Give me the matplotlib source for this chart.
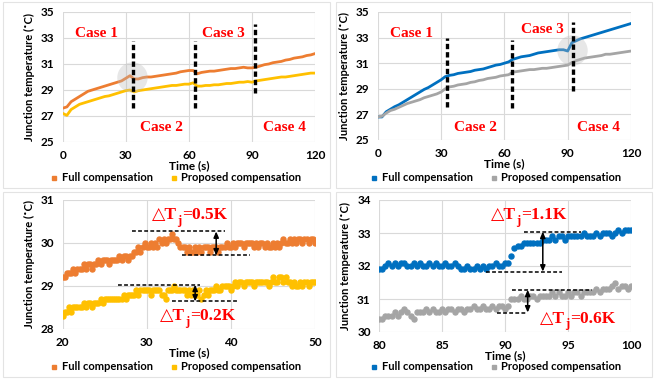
import numpy as np
import matplotlib
matplotlib.use("Agg")
import matplotlib.pyplot as plt
from matplotlib.lines import Line2D
from matplotlib.patches import Rectangle

# ---------------- data ----------------
t_top = list(range(0, 121, 2))
tl_full = [27.6, 27.7, 28.1, 28.3, 28.5, 28.7, 28.9, 29.0, 29.1, 29.2, 29.3, 29.4, 29.5, 29.6, 29.7, 29.9,
           30.1, 29.85, 29.85, 29.95, 30.0, 30.0, 30.05, 30.1, 30.15, 30.2, 30.25, 30.3, 30.4, 30.45, 30.5,
           30.5, 30.25, 30.35, 30.4, 30.45, 30.45, 30.5, 30.55, 30.6, 30.65, 30.65, 30.7, 30.75, 30.7, 30.7,
           30.75, 30.85, 30.95, 31.0, 31.1, 31.15, 31.2, 31.3, 31.35, 31.45, 31.5, 31.55, 31.65, 31.7, 31.8]
tl_prop = [27.2, 27.05, 27.5, 27.7, 27.9, 28.0, 28.1, 28.2, 28.3, 28.4, 28.5, 28.55, 28.65, 28.75, 28.85, 28.95,
           29.0, 28.85, 28.95, 29.0, 29.05, 29.1, 29.15, 29.2, 29.25, 29.3, 29.35, 29.35, 29.4, 29.45, 29.45,
           29.55, 29.3, 29.3, 29.35, 29.35, 29.4, 29.4, 29.45, 29.5, 29.5, 29.55, 29.6, 29.6, 29.65, 29.6,
           29.7, 29.75, 29.8, 29.85, 29.9, 29.95, 30.0, 30.0, 30.05, 30.1, 30.15, 30.2, 30.25, 30.3, 30.3]
tr_full = [26.8, 26.8, 27.2, 27.4, 27.6, 27.75, 27.95, 28.15, 28.35, 28.55, 28.75, 28.95, 29.1, 29.3, 29.5, 29.7,
           29.95, 30.05, 30.1, 30.2, 30.25, 30.3, 30.35, 30.45, 30.5, 30.55, 30.65, 30.75, 30.85, 30.9, 31.0,
           31.1, 31.3, 31.4, 31.5, 31.55, 31.6, 31.7, 31.8, 31.85, 31.9, 31.95, 32.0, 32.05, 32.05, 31.95,
           32.6, 32.75, 32.9, 33.0, 33.1, 33.2, 33.3, 33.4, 33.5, 33.6, 33.7, 33.8, 33.9, 34.0, 34.1]
tr_prop = [26.8, 26.85, 27.1, 27.3, 27.4, 27.55, 27.7, 27.85, 27.95, 28.05, 28.15, 28.3, 28.4, 28.5, 28.6, 28.75,
           29.0, 29.15, 29.2, 29.3, 29.35, 29.4, 29.5, 29.55, 29.65, 29.7, 29.8, 29.85, 29.9, 30.0, 30.05,
           30.1, 30.3, 30.35, 30.4, 30.45, 30.5, 30.5, 30.55, 30.6, 30.6, 30.65, 30.7, 30.75, 30.8, 30.85,
           31.05, 31.2, 31.3, 31.4, 31.45, 31.5, 31.55, 31.6, 31.7, 31.7, 31.75, 31.8, 31.85, 31.9, 31.95]

t_bl = list(np.arange(20, 50.001, 0.25))
bl_full = [29.2, 29.2, 29.3, 29.3, 29.3, 29.4, 29.3, 29.4, 29.4, 29.4, 29.5, 29.4, 29.5, 29.5, 29.4, 29.5,
           29.5, 29.6, 29.5, 29.6, 29.6, 29.6, 29.5, 29.6, 29.6, 29.6, 29.6, 29.7, 29.6, 29.7, 29.7, 29.6,
           29.7, 29.7, 29.8, 29.8, 29.9, 29.8, 29.9, 30.0, 29.9, 29.9, 30.0, 29.9, 30.0, 29.9, 30.1, 30.0,
           30.1, 30.0, 30.1, 30.1, 30.2, 30.1, 30.1, 30.0, 29.9, 29.9, 29.9, 29.8, 29.9, 29.8, 29.8, 29.9,
           29.8, 29.9, 29.8, 29.9, 29.9, 29.9, 29.8, 29.9, 29.9, 29.9, 29.8, 29.9, 29.9, 29.9, 30.0, 29.9,
           29.9, 30.0, 29.9, 30.0, 30.0, 30.0, 29.9, 30.0, 30.0, 30.0, 30.0, 29.9, 30.0, 29.9, 30.0, 30.0,
           29.9, 30.0, 29.9, 29.9, 30.0, 29.9, 30.0, 29.9, 30.0, 30.1, 30.0, 30.0, 30.1, 30.0, 30.1, 30.0,
           30.1, 30.1, 30.0, 30.1, 30.1, 30.0, 30.1, 30.1, 30.0]
bl_prop = [28.3, 28.4, 28.4, 28.5, 28.4, 28.5, 28.5, 28.5, 28.5, 28.5, 28.6, 28.5, 28.6, 28.6, 28.5, 28.6,
           28.6, 28.6, 28.7, 28.6, 28.7, 28.7, 28.7, 28.7, 28.7, 28.7, 28.7, 28.7, 28.7, 28.8, 28.7, 28.8,
           28.8, 28.8, 28.8, 28.9, 28.8, 28.9, 28.9, 28.9, 28.9, 28.9, 28.8, 28.9, 28.9, 28.9, 28.9, 28.8,
           28.8, 28.7, 28.9, 28.9, 28.9, 29.0, 28.9, 28.9, 28.9, 28.9, 28.9, 28.8, 28.9, 28.8, 28.9, 28.8,
           28.8, 28.9, 28.7, 28.8, 28.9, 28.8, 28.9, 28.9, 28.9, 29.0, 28.9, 28.9, 29.0, 29.0, 29.0, 29.0,
           28.9, 29.0, 29.1, 29.0, 29.1, 29.1, 29.0, 29.1, 29.1, 29.1, 29.1, 29.0, 29.1, 29.1, 29.1, 29.1,
           29.1, 29.1, 29.0, 29.1, 29.2, 29.1, 29.1, 29.2, 29.2, 29.1, 29.2, 29.1, 29.1, 29.0, 29.1, 29.0,
           29.0, 29.1, 29.0, 29.1, 29.1, 29.0, 29.1, 29.1, 29.1]

t_br = list(np.arange(80, 100.001, 0.25))
br_full = [31.9, 31.9, 32.0, 32.1, 32.0, 32.1, 32.0, 32.1, 32.1, 32.0, 32.0, 32.1, 32.0, 32.1, 32.0, 32.0,
           32.1, 32.0, 32.1, 32.0, 32.0, 32.1, 32.0, 32.0, 32.1, 32.0, 31.9, 31.9, 32.0, 31.9, 31.9, 32.0,
           31.9, 32.0, 31.9, 32.0, 32.0, 32.1, 32.0, 32.0, 32.1, 32.1, 32.3, 32.55, 32.6, 32.6, 32.7, 32.7,
           32.7, 32.7, 32.7, 32.7, 32.8, 32.8, 32.8, 32.9, 32.8, 32.9, 32.9, 32.8, 32.9, 32.9, 32.9, 32.9,
           32.9, 33.0, 32.9, 32.9, 32.9, 33.0, 32.9, 33.0, 33.0, 33.0, 32.9, 33.0, 33.1, 33.0, 33.1, 33.1,
           33.1]
br_prop = [30.4, 30.4, 30.5, 30.5, 30.5, 30.6, 30.5, 30.6, 30.7, 30.6, 30.5, 30.4, 30.6, 30.6, 30.6, 30.7,
           30.6, 30.7, 30.6, 30.6, 30.7, 30.6, 30.7, 30.7, 30.6, 30.7, 30.7, 30.6, 30.7, 30.7, 30.8, 30.7,
           30.7, 30.8, 30.7, 30.7, 30.8, 30.7, 30.8, 30.8, 30.7, 30.8, 31.0, 31.0, 31.0, 31.1, 31.0, 31.0,
           31.1, 31.1, 31.0, 31.1, 31.1, 31.1, 31.1, 31.2, 31.1, 31.2, 31.1, 31.1, 31.2, 31.1, 31.2, 31.2,
           31.1, 31.2, 31.2, 31.2, 31.2, 31.3, 31.2, 31.3, 31.3, 31.3, 31.4, 31.5, 31.3, 31.4, 31.4, 31.3,
           31.4]

series_labels = ["Full compensation", "Proposed compensation"]
case_labels = ["Case 1", "Case 2", "Case 3", "Case 4"]
delta_labels = ["0.5K", "0.2K", "1.1K", "0.6K"]
ylabel_text = "Junction temperature (˚C)"
xlabel_text = "Time (s)"

C_OR, C_YE, C_BL, C_GR = "#ED7D31", "#FFC000", "#0070C0", "#A5A5A5"
RED = "#FF0000"
GRID = "#D9D9D9"
SANS = ["Lato", "DejaVu Sans"]
SERIF = ["Liberation Serif", "DejaVu Serif"]

W, H = 664, 379
fig = plt.figure(figsize=(W / 100, H / 100), dpi=100)
fig.patch.set_facecolor("white")


def px_rect(l, t, r, b):
    return [l / W, 1 - b / H, (r - l) / W, (b - t) / H]


# panel frames
for (l, t, r, b) in [(3, 2, 330, 188), (336, 2, 652, 188), (3, 192, 330, 377), (336, 192, 652, 377)]:
    fig.add_artist(Rectangle((l / W, 1 - b / H), (r - l) / W, (b - t) / H, transform=fig.transFigure,
                             fill=False, edgecolor="#E3E3E3", lw=0.8))


def style_axes(ax, xlim, xticks, ylim, yticks):
    ax.set_xlim(*xlim)
    ax.set_ylim(*ylim)
    ax.set_xticks(xticks)
    ax.set_yticks(yticks)
    ax.grid(True, color=GRID, lw=0.8)
    ax.set_axisbelow(True)
    for s in ax.spines.values():
        s.set_visible(False)
    ax.tick_params(length=0, pad=6, labelsize=8.5)
    for lab in ax.get_xticklabels() + ax.get_yticklabels():
        lab.set_family(SANS)
        lab.set_fontweight("bold")
    ax.set_ylabel(ylabel_text, family=SANS, fontweight="bold", fontsize=8, labelpad=4)
    ax.set_xlabel(xlabel_text, family=SANS, fontweight="bold", fontsize=8.5, labelpad=-1)


def add_legend(ax, c1, c2, cx, cy):
    handles = [Line2D([], [], ls="none", marker="s", ms=2.5, color=c1),
               Line2D([], [], ls="none", marker="s", ms=2.5, color=c2)]
    leg = ax.legend(handles, series_labels, loc="center", bbox_to_anchor=(cx / W, 1 - cy / H),
                    bbox_transform=fig.transFigure, ncol=2,
                    frameon=False, handlelength=0.6, handletextpad=0.4, columnspacing=1.6,
                    borderpad=0, prop={"family": SANS, "weight": "bold", "size": 8})
    return leg


def vdash(ax, x, y0, y1):
    ax.plot([x, x], [y0, y1], color="black", lw=2.4, dashes=(1.6, 0.9), zorder=5)


def case_text(ax, x, y, s):
    ax.text(x, y, s, color=RED, family=SERIF, fontweight="bold", fontsize=11, ha="center", va="center")


def hdash(ax, x0, x1, y):
    ax.plot([x0, x1], [y, y], color="black", lw=1.1, dashes=(2.5, 1.5), zorder=5)


def darrow(ax, x, y0, y1):
    ax.annotate("", xy=(x, y1), xytext=(x, y0),
                arrowprops=dict(arrowstyle="<|-|>,head_length=0.35,head_width=0.15", color="black", lw=1.1,
                                shrinkA=0, shrinkB=0), zorder=6)


def delta_text(ax, x, y, val):
    kw = dict(color=RED, family=SERIF, fontweight="bold")
    t1 = ax.text(x, y, "△T", fontsize=12.5, ha="left", va="center", **kw)
    t2 = ax.annotate("j", xy=(1, 0), xycoords=t1, xytext=(0.2, -2.5), textcoords="offset points",
                     fontsize=9, ha="left", va="bottom", **kw)
    ax.annotate("=" + val, xy=(1, 0), xycoords=(t2, t1), xytext=(0.3, 0), textcoords="offset points",
                fontsize=12.5, ha="left", va="bottom", **kw)


# ---------- top-left ----------
ax1 = fig.add_axes(px_rect(62.7, 12, 315, 142))
ax1.plot(t_top, tl_full, color=C_OR, lw=2.0)
ax1.plot(t_top, tl_prop, color=C_YE, lw=2.0)
style_axes(ax1, (0, 120), [0, 30, 60, 90, 120], (25, 35), [25, 27, 29, 31, 33, 35])
ax1.scatter([33], [30.0], s=480, color="#BBBBBB", alpha=0.35, lw=0, zorder=4)
vdash(ax1, 33.3, 27.6, 32.8)
vdash(ax1, 62.9, 27.6, 32.8)
vdash(ax1, 91.5, 28.8, 34.1)
case_text(ax1, 15.9, 33.35, case_labels[0])
case_text(ax1, 46.8, 26.1, case_labels[1])
case_text(ax1, 76.2, 33.35, case_labels[2])
case_text(ax1, 105.3, 26.1, case_labels[3])
add_legend(ax1, C_OR, C_YE, 176, 178)

# ---------- top-right ----------
ax2 = fig.add_axes(px_rect(377.7, 12, 631, 140))
ax2.plot(t_top, tr_full, color=C_BL, lw=2.0)
ax2.plot(t_top, tr_prop, color=C_GR, lw=2.0)
style_axes(ax2, (0, 120), [0, 30, 60, 90, 120], (25, 35), [25, 27, 29, 31, 33, 35])
ax2.scatter([92], [32.0], s=480, color="#BBBBBB", alpha=0.35, lw=0, zorder=4)
vdash(ax2, 32.8, 27.6, 33.0)
vdash(ax2, 63.6, 27.5, 32.8)
vdash(ax2, 92.4, 28.85, 34.2)
case_text(ax2, 15.8, 33.3, case_labels[0])
case_text(ax2, 46.3, 26.0, case_labels[1])
case_text(ax2, 77.8, 33.65, case_labels[2])
case_text(ax2, 104.7, 26.0, case_labels[3])
add_legend(ax2, C_BL, C_GR, 496, 178)

# ---------- bottom-left ----------
ax3 = fig.add_axes(px_rect(62.7, 200, 315, 329))
ax3.plot(t_bl, bl_full, ls="none", marker="o", ms=3.6, color=C_OR)
ax3.plot(t_bl, bl_prop, ls="none", marker="o", ms=3.6, color=C_YE)
style_axes(ax3, (20, 50), [20, 30, 40, 50], (28, 31), [28, 29, 30, 31])
hdash(ax3, 28.2, 39.3, 30.27)
hdash(ax3, 34.2, 42.3, 29.71)
darrow(ax3, 38.25, 29.71, 30.27)
hdash(ax3, 26.6, 36.3, 29.03)
hdash(ax3, 33.05, 40.7, 28.64)
darrow(ax3, 35.75, 28.64, 29.03)
delta_text(ax3, 30.6, 30.65, delta_labels[0])
delta_text(ax3, 31.6, 28.3, delta_labels[1])
add_legend(ax3, C_OR, C_YE, 176, 367)

# ---------- bottom-right ----------
ax4 = fig.add_axes(px_rect(379, 200, 631, 332))
ax4.plot(t_br, br_full, ls="none", marker="o", ms=3.6, color=C_BL)
ax4.plot(t_br, br_prop, ls="none", marker="o", ms=3.6, color=C_GR)
style_axes(ax4, (80, 100), [80, 85, 90, 95, 100], (30, 34), [30, 31, 32, 33, 34])
hdash(ax4, 91.5, 96.0, 33.04)
hdash(ax4, 88.5, 94.5, 31.83)
darrow(ax4, 93.0, 31.83, 33.04)
hdash(ax4, 90.55, 96.9, 31.28)
hdash(ax4, 89.35, 91.65, 30.59)
darrow(ax4, 91.8, 30.59, 31.28)
delta_text(ax4, 88.9, 33.54, delta_labels[2])
delta_text(ax4, 92.8, 30.4, delta_labels[3])
add_legend(ax4, C_BL, C_GR, 496, 367)

fig.savefig("out.png", dpi=100)
